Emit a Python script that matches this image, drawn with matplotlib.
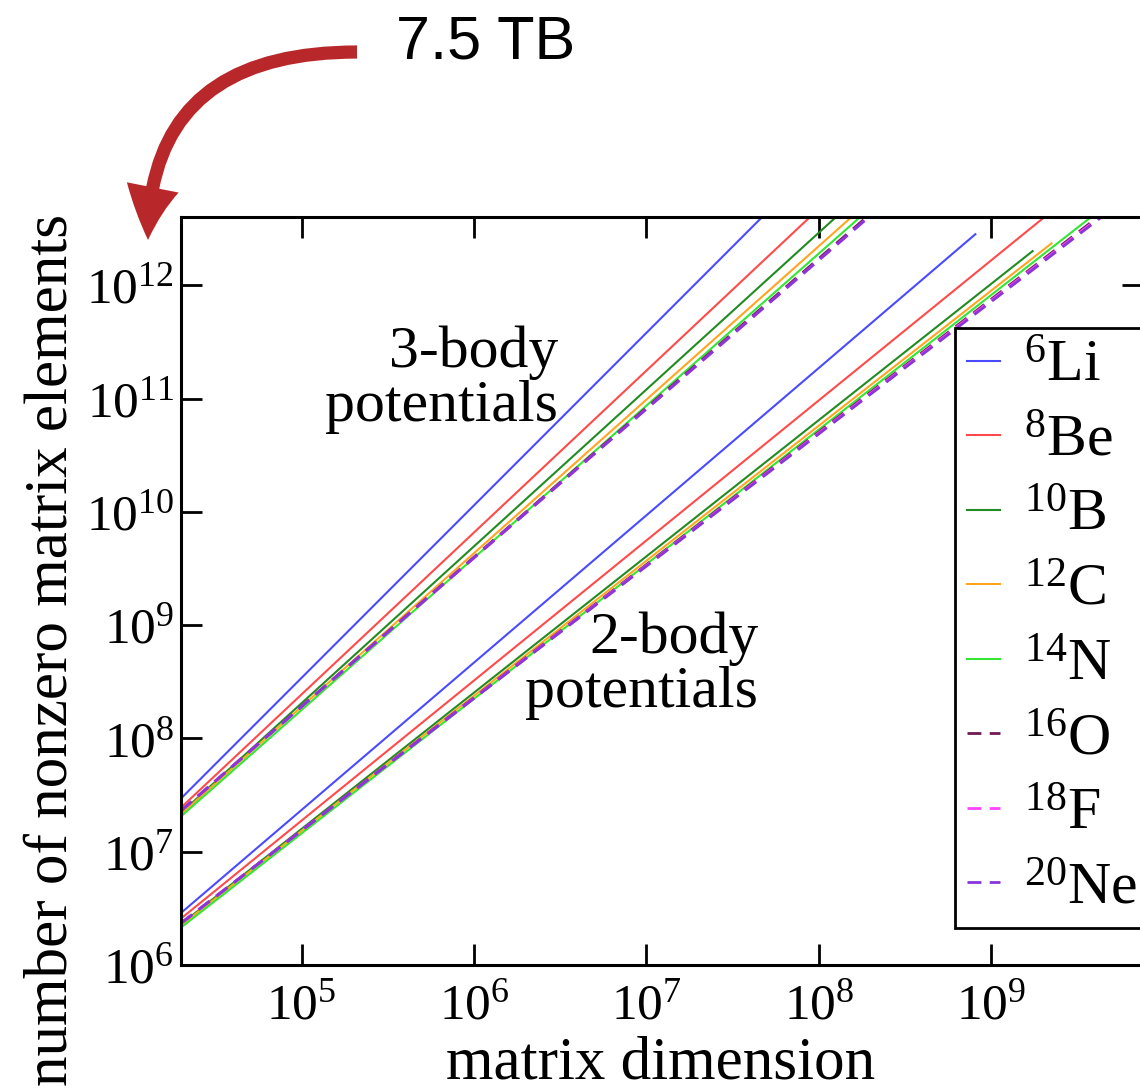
import matplotlib
matplotlib.use('Agg')
import matplotlib.pyplot as plt
from matplotlib.patches import FancyArrowPatch
from matplotlib.ticker import NullLocator

plt.rcParams['font.family'] = ['Liberation Serif', 'DejaVu Serif']
plt.rcParams['mathtext.fontset'] = 'custom'
plt.rcParams['mathtext.rm'] = 'Liberation Serif'
plt.rcParams['mathtext.it'] = 'Liberation Serif:italic'

# nuclei and legend labels
labels = [r'$^{6}$Li', r'$^{8}$Be', r'$^{10}$B', r'$^{12}$C',
          r'$^{14}$N', r'$^{16}$O', r'$^{18}$F', r'$^{20}$Ne']
colors = ['#4a4aff', '#ff4a4a', '#228b22', '#ffa520',
          '#33e633', '#701a55', '#ff44ff', '#8a35d8']
styles = ['-', '-', '-', '-', '-', '--', '--', '--']

# matrix dimension range (left edge -> end of each line)
dim_start = 2.0e4
dim_end_3body = [4.7e7, 8.9e7, 1.26e8, 1.55e8, 1.74e8, 1.9e8, 1.95e8, 1.95e8]
dim_end_2body = [8.1e8, 2.04e9, 1.74e9, 2.24e9, 3.8e9, 4.17e9, 4.27e9, 4.37e9]

# number of nonzero matrix elements at both ends
nnz_start_3body = [2.95e7, 2.45e7, 2.2e7, 2.15e7, 2.05e7, 2.3e7, 2.3e7, 2.3e7]
nnz_end_3body = [4e12, 4e12, 4e12, 4e12, 4e12, 4e12, 4e12, 4e12]
nnz_start_2body = [2.88e6, 2.57e6, 2.29e6, 2.24e6, 2.14e6, 2.34e6, 2.34e6, 2.34e6]
nnz_end_2body = [2.82e12, 4e12, 2.0e12, 2.34e12, 4e12, 4e12, 4e12, 4e12]

fig = plt.figure(figsize=(11.4, 10.9), dpi=100)
ax = fig.add_axes([181 / 1140, 1 - 965 / 1090, (1143 - 181) / 1140, (965 - 217) / 1090])

for i in range(len(labels)):
    ls = styles[i]
    kw = dict(color=colors[i], lw=1.5)
    if ls == '--':
        kw['dashes'] = (5, 3)
        kw['lw'] = 2.0
    ax.plot([dim_start, dim_end_3body[i]], [nnz_start_3body[i], nnz_end_3body[i]],
            label=labels[i], **kw)
    ax.plot([dim_start, dim_end_2body[i]], [nnz_start_2body[i], nnz_end_2body[i]], **kw)

ax.set_xscale('log')
ax.set_yscale('log')
ax.set_xlim(2e4, 7.6e9)
ax.set_ylim(1e6, 4e12)
ax.set_xticks([1e5, 1e6, 1e7, 1e8, 1e9])
ax.set_yticks([1e6, 1e7, 1e8, 1e9, 1e10, 1e11, 1e12])
ax.xaxis.set_minor_locator(NullLocator())
ax.yaxis.set_minor_locator(NullLocator())
ax.tick_params(direction='in', top=True, right=True, length=15, width=2,
               labelsize=37)
ax.tick_params(axis='x', pad=13)
ax.tick_params(axis='y', pad=5)
for s in ax.spines.values():
    s.set_linewidth(2.2)

ax.set_xlabel('matrix dimension', fontsize=44)
ax.set_ylabel('number of nonzero matrix elements', fontsize=44)
ax.xaxis.set_label_coords(0.498, -0.095)
ax.yaxis.set_label_coords(-0.105, 0.421)

ax.text(0.392, 0.782, '3-body\npotentials', transform=ax.transAxes, fontsize=43,
        ha='right', va='center', multialignment='right', linespacing=1.0)
ax.text(0.600, 0.400, '2-body\npotentials', transform=ax.transAxes, fontsize=43,
        ha='right', va='center', multialignment='right', linespacing=1.0)

leg = ax.legend(loc='upper left', bbox_to_anchor=(955 / 1140, 1 - 328 / 1090),
                bbox_transform=fig.transFigure, borderaxespad=0, fontsize=43,
                handlelength=0.55, handletextpad=0.4, borderpad=0.2,
                labelspacing=0.33, fancybox=False, framealpha=1)
leg.get_frame().set_edgecolor('black')
leg.get_frame().set_linewidth(2)

# red arrow pointing at the top of the y axis
arrow = FancyArrowPatch((357 / 1140, 1 - 52 / 1090), (148 / 1140, 1 - 240 / 1090),
                        transform=fig.transFigure,
                        connectionstyle='angle3,angleA=0,angleB=90',
                        arrowstyle='simple,head_length=3.8,head_width=3.8,tail_width=0.95',
                        mutation_scale=10, color='#b8282a', lw=0,
                        shrinkA=0, shrinkB=0)
fig.add_artist(arrow)
fig.text(486 / 1140, 1 - 43 / 1090, '7.5 TB', fontsize=44, family='Liberation Sans',
         ha='center', va='center')

fig.savefig('out.png', dpi=100)
